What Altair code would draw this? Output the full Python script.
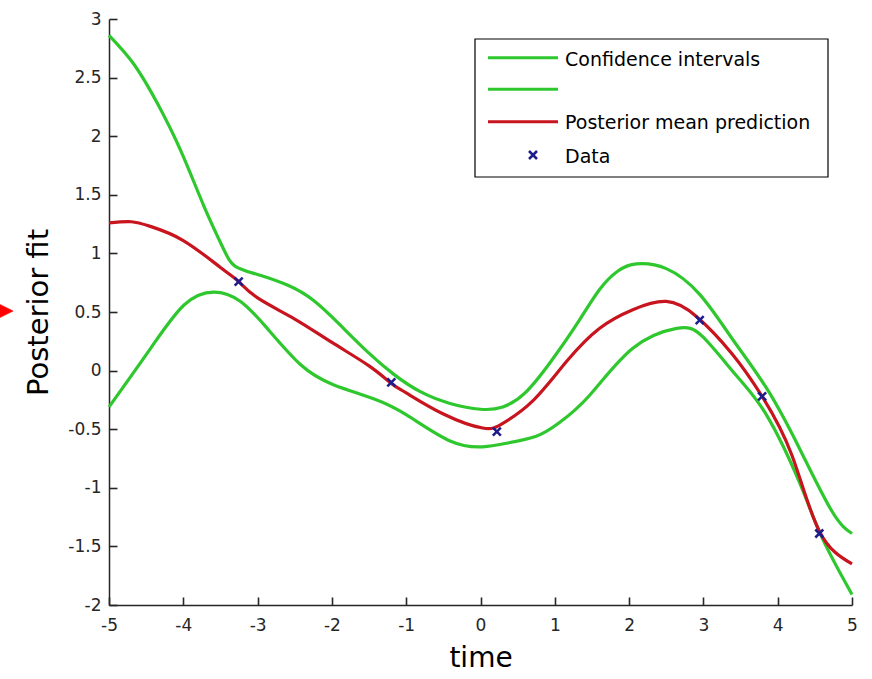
import altair as alt
import pandas as pd

# ---- data ----
upper_x = [-5.0, -4.66, -4.34, -4.03, -3.72, -3.46, -3.3, -3.0, -2.6, -2.25, -1.89, -1.52,
           -1.17, -0.81, -0.41, 0.0, 0.3, 0.6, 0.95, 1.3, 1.6, 1.85, 2.1, 2.5, 2.95,
           3.39, 3.85, 4.29, 4.73, 5.0]
upper_y = [2.86, 2.61, 2.27, 1.87, 1.4, 1.04, 0.89, 0.82, 0.73, 0.6, 0.39, 0.16,
           -0.03, -0.18, -0.28, -0.33, -0.31, -0.19, 0.08, 0.4, 0.69, 0.85, 0.91, 0.87, 0.65,
           0.27, -0.15, -0.66, -1.2, -1.39]

lower_x = [-5.0, -4.44, -3.99, -3.59, -3.23, -2.87, -2.42, -1.98, -1.44, -0.99, -0.41, 0.03, 0.35,
           0.75, 1.05, 1.47, 2.05, 2.64, 2.99, 3.44, 3.85, 4.29, 4.6, 5.0]
lower_y = [-0.31, 0.19, 0.56, 0.67, 0.59, 0.36, 0.05, -0.12, -0.24, -0.38, -0.6, -0.65, -0.62,
           -0.56, -0.45, -0.21, 0.19, 0.36, 0.29, -0.04, -0.38, -0.95, -1.43, -1.91]

mean_x = [-5.0, -4.7, -4.44, -4.0, -3.5, -3.255, -3.0, -2.5, -2.0, -1.5, -1.2, -1.0, -0.5, 0.03,
          0.3, 0.7, 1.16, 1.6, 2.05, 2.5, 2.91, 3.39, 3.79, 4.19, 4.56, 5.0]
mean_y = [1.26, 1.27, 1.23, 1.11, 0.88, 0.76, 0.62, 0.44, 0.24, 0.04, -0.11, -0.19, -0.37, -0.49,
          -0.45, -0.26, 0.08, 0.36, 0.52, 0.59, 0.46, 0.14, -0.22, -0.72, -1.37, -1.65]

data_x = [-3.255, -1.2, 0.22, 2.95, 3.79, 4.56]
data_y = [0.76, -0.1, -0.52, 0.43, -0.22, -1.39]

x_ticks = [-5, -4, -3, -2, -1, 0, 1, 2, 3, 4, 5]
y_ticks = [-2, -1.5, -1, -0.5, 0, 0.5, 1, 1.5, 2, 2.5, 3]
legend_labels = ["Confidence intervals", "", "Posterior mean prediction", "Data"]

# ---- style ----
W, H = 743, 586
FONT = "DejaVu Sans"
GREEN = "#2ec82e"
RED = "#c8141e"
BLUE = "#1c1c8c"
AX = "#262626"
XPATH = "M -1 -1 L 1 1 M -1 1 L 1 -1"
TICK = 8
LBL = "datum.value < 0 ? '-' + format(-datum.value, '~g') : format(datum.value, '~g')"

xs = alt.Scale(domain=[-5, 5], nice=False, zero=False)
ys = alt.Scale(domain=[-2, 3], nice=False, zero=False)

X_AX = alt.Axis(title="time", orient="bottom", values=x_ticks, ticks=False, grid=False,
                domainColor=AX, domainWidth=1.5, labelFont=FONT, labelFontSize=17,
                labelColor=AX, labelPadding=12, labelExpr=LBL, labelFlush=False,
                labelOverlap=False, titleFont=FONT, titleFontSize=28,
                titleFontWeight="normal", titleColor="black", titlePadding=11)
Y_AX = alt.Axis(title="Posterior fit", orient="left", values=y_ticks, ticks=False, grid=False,
                domainColor=AX, domainWidth=1.5, labelFont=FONT, labelFontSize=17,
                labelColor=AX, labelPadding=8, labelExpr=LBL, labelFlush=False,
                labelOverlap=False, titleFont=FONT, titleFontSize=29,
                titleFontWeight="normal", titleColor="black", titlePadding=14)

# inward ticks: extra axes shifted into the plot with outward ticks reaching the axis line
X_TICK_AX = alt.Axis(orient="bottom", offset=-TICK, values=x_ticks, ticks=True, tickSize=TICK,
                     tickWidth=1.6, tickColor=AX, domain=False, labels=False, grid=False,
                     title=None)
Y_TICK_AX = alt.Axis(orient="left", offset=-TICK, values=y_ticks, ticks=True, tickSize=TICK,
                     tickWidth=1.6, tickColor=AX, domain=False, labels=False, grid=False,
                     title=None)


def curve(xv, yv, color, with_axes=False):
    df = pd.DataFrame({"t": xv, "v": yv})
    return alt.Chart(df).mark_line(color=color, strokeWidth=3.2, interpolate="natural").encode(
        x=alt.X("t:Q", scale=xs, axis=X_AX if with_axes else None),
        y=alt.Y("v:Q", scale=ys, axis=Y_AX if with_axes else None),
    )


upper = curve(upper_x, upper_y, GREEN, with_axes=True)
lower = curve(lower_x, lower_y, GREEN)
mean = curve(mean_x, mean_y, RED)

pts = alt.Chart(pd.DataFrame({"t": data_x, "v": data_y})).mark_point(
    shape=XPATH, size=64, stroke=BLUE, strokeWidth=2.5, filled=False, opacity=1
).encode(x=alt.X("t:Q", scale=xs, axis=None), y=alt.Y("v:Q", scale=ys, axis=None))

tick_layer = alt.Chart(pd.DataFrame({"t": x_ticks, "v": [y_ticks[0]] * len(x_ticks)})).mark_point(
    opacity=0
).encode(x=alt.X("t:Q", scale=xs, axis=X_TICK_AX), y=alt.Y("v:Q", scale=ys, axis=Y_TICK_AX))

# ---- legend (drawn box, as in the reference) ----
one = pd.DataFrame({"k": [0]})
leg_box = alt.Chart(one).mark_rect(fill="white", stroke="black", strokeWidth=1.2).encode(
    x=alt.value(366), x2=alt.value(719), y=alt.value(20), y2=alt.value(158))
leg_l1 = alt.Chart(one).mark_rule(color=GREEN, strokeWidth=3).encode(
    x=alt.value(379), x2=alt.value(449), y=alt.value(38.7))
leg_l2 = alt.Chart(one).mark_rule(color=GREEN, strokeWidth=3).encode(
    x=alt.value(379), x2=alt.value(449), y=alt.value(70.3))
leg_l3 = alt.Chart(one).mark_rule(color=RED, strokeWidth=3).encode(
    x=alt.value(379), x2=alt.value(449), y=alt.value(102.7))
leg_pt = alt.Chart(one).mark_point(shape=XPATH, size=64, stroke=BLUE, strokeWidth=2.5,
                                   filled=False, opacity=1).encode(
    x=alt.value(424), y=alt.value(136))


def leg_text(label, yv):
    return alt.Chart(pd.DataFrame({"label": [label]})).mark_text(
        font=FONT, fontSize=19, color="black", align="left", baseline="middle"
    ).encode(text="label:N", x=alt.value(456), y=alt.value(yv))


leg_t1 = leg_text(legend_labels[0], 41)
leg_t3 = leg_text(legend_labels[2], 104)
leg_t4 = leg_text(legend_labels[3], 138)

arrow = alt.Chart(one).mark_point(shape="M -1 -1 L 1 0 L -1 1 Z", size=180, filled=True,
                                  fill="red", stroke="red", strokeWidth=0.5, opacity=1).encode(
    x=alt.value(-102.5), y=alt.value(292))

chart = alt.layer(
    upper, tick_layer, lower, mean, pts,
    leg_box, leg_l1, leg_l2, leg_l3, leg_pt, leg_t1, leg_t3, leg_t4, arrow
).resolve_axis(x="independent", y="independent").properties(
    width=W, height=H,
    padding={"left": 109, "top": 19, "right": 20, "bottom": 74},
    autosize=alt.AutoSizeParams(type="none"),
    background="white",
).configure_view(strokeWidth=0)

chart.save("out.html", embed_options={"renderer": "svg", "actions": False})
